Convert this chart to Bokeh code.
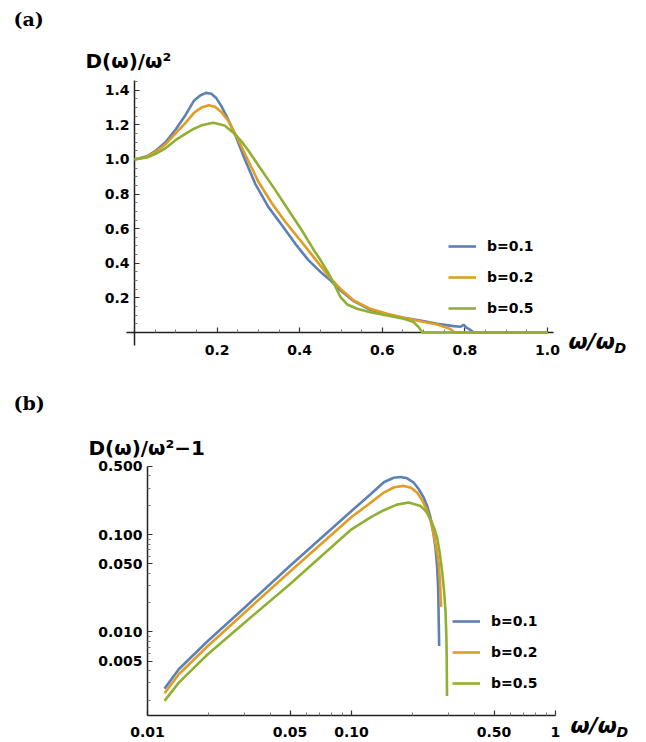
from bokeh.plotting import figure
from bokeh.models import Range1d, FixedTicker, Label, Legend, LegendItem
from bokeh.layouts import column
from bokeh.core.properties import value
from bokeh.embed import file_html
from bokeh.resources import INLINE

# ---------------- data: panel (a)  D(w)/w^2 vs w/wD ----------------
series_labels = ["b=0.1", "b=0.2", "b=0.5"]
series_colors = ["#5E81B5", "#E19C24", "#8FB032"]

a_x_b01 = [0, 0.03, 0.05, 0.075, 0.1, 0.124, 0.144, 0.159, 0.173, 0.186, 0.198, 0.21, 0.222,
           0.244, 0.268, 0.292, 0.324, 0.357, 0.389, 0.421, 0.454, 0.475, 0.499, 0.531, 0.571,
           0.612, 0.652, 0.692, 0.733, 0.773, 0.79, 0.797, 0.803, 0.81, 0.822, 1.0]
a_y_b01 = [1.0, 1.018, 1.048, 1.10, 1.175, 1.259, 1.340, 1.370, 1.385, 1.380, 1.355, 1.31, 1.255,
           1.141, 0.996, 0.861, 0.726, 0.620, 0.514, 0.418, 0.342, 0.30, 0.243, 0.181, 0.131,
           0.104, 0.085, 0.069, 0.050, 0.037, 0.033, 0.045, 0.03, 0.02, 0.0, 0.0]

a_x_b02 = [0, 0.03, 0.05, 0.075, 0.1, 0.124, 0.144, 0.162, 0.18, 0.195, 0.21, 0.227, 0.252, 0.276,
           0.300, 0.333, 0.365, 0.398, 0.430, 0.472, 0.499, 0.531, 0.571, 0.612, 0.652, 0.692,
           0.733, 0.764, 0.775, 1.0]
a_y_b02 = [1.0, 1.016, 1.042, 1.088, 1.152, 1.213, 1.270, 1.300, 1.314, 1.305, 1.275, 1.225, 1.11,
           0.99, 0.871, 0.746, 0.640, 0.543, 0.447, 0.32, 0.252, 0.185, 0.137, 0.108, 0.085,
           0.065, 0.046, 0.021, 0.0, 0.0]

a_x_b05 = [0, 0.03, 0.05, 0.075, 0.1, 0.124, 0.144, 0.165, 0.191, 0.218, 0.244, 0.263, 0.276,
           0.308, 0.341, 0.373, 0.405, 0.437, 0.450, 0.470, 0.483, 0.499, 0.515, 0.539, 0.571,
           0.612, 0.652, 0.676, 0.688, 0.697, 1.0]
a_y_b05 = [1.0, 1.012, 1.031, 1.065, 1.113, 1.150, 1.178, 1.200, 1.213, 1.197, 1.146, 1.093, 1.05,
           0.938, 0.823, 0.707, 0.591, 0.466, 0.42, 0.341, 0.282, 0.204, 0.162, 0.137, 0.117,
           0.098, 0.079, 0.060, 0.031, 0.0, 0.0]

a_xticks = [0.2, 0.4, 0.6, 0.8, 1.0]
a_xtick_labels = ["0.2", "0.4", "0.6", "0.8", "1.0"]
a_xminor = [0.05, 0.1, 0.15, 0.25, 0.3, 0.35, 0.45, 0.5, 0.55, 0.65, 0.7, 0.75, 0.85, 0.9, 0.95]
a_yticks = [0.2, 0.4, 0.6, 0.8, 1.0, 1.2, 1.4]
a_ytick_labels = ["0.2", "0.4", "0.6", "0.8", "1.0", "1.2", "1.4"]
a_yminor = [0.05, 0.1, 0.15, 0.25, 0.3, 0.35, 0.45, 0.5, 0.55, 0.65, 0.7, 0.75, 0.85, 0.9, 0.95,
            1.05, 1.1, 1.15, 1.25, 1.3, 1.35, 1.45]

# ---------------- data: panel (b)  D(w)/w^2 - 1, log-log ----------------
b_x_b01 = [0.01212, 0.01424, 0.01975, 0.02989, 0.04986, 0.1, 0.124, 0.144, 0.161, 0.174, 0.1875,
           0.202, 0.2138, 0.226, 0.235, 0.244, 0.251, 0.258, 0.263, 0.266, 0.269]
b_y_b01 = [0.00262, 0.00414, 0.00808, 0.01776, 0.0476, 0.1747, 0.259, 0.345, 0.383, 0.390, 0.378,
           0.341, 0.292, 0.239, 0.197, 0.149, 0.109, 0.0734, 0.0457, 0.0285, 0.00718]

b_x_b02 = [0.01212, 0.01424, 0.01975, 0.02989, 0.04986, 0.1, 0.124, 0.144, 0.162, 0.180, 0.196,
           0.210, 0.223, 0.235, 0.245, 0.253, 0.261, 0.268, 0.272, 0.275]
b_y_b02 = [0.00235, 0.00368, 0.00718, 0.01578, 0.0416, 0.1517, 0.212, 0.270, 0.306, 0.316, 0.303,
           0.269, 0.222, 0.175, 0.135, 0.100, 0.072, 0.0495, 0.031, 0.0181]

b_x_b05 = [0.01212, 0.01424, 0.01975, 0.02989, 0.04986, 0.1, 0.124, 0.144, 0.167, 0.191, 0.218,
           0.232, 0.244, 0.254, 0.263, 0.271, 0.278, 0.284, 0.289, 0.292, 0.293, 0.294]
b_y_b05 = [0.00196, 0.00302, 0.0059, 0.01247, 0.0309, 0.1133, 0.150, 0.178, 0.203, 0.213, 0.197,
           0.173, 0.1436, 0.117, 0.093, 0.064, 0.0423, 0.027, 0.0164, 0.0085, 0.00504, 0.0022]

b_xticks = [0.01, 0.05, 0.1, 0.5, 1]
b_xtick_labels = ["0.01", "0.05", "0.10", "0.50", "1"]
b_xminor = [0.02, 0.03, 0.04, 0.06, 0.07, 0.08, 0.09, 0.2, 0.3, 0.4, 0.6, 0.7, 0.8, 0.9]
b_yticks = [0.005, 0.01, 0.05, 0.1, 0.5]
b_ytick_labels = ["0.005", "0.010", "0.050", "0.100", "0.500"]
b_yminor = [0.002, 0.003, 0.004, 0.006, 0.007, 0.008, 0.009, 0.02, 0.03, 0.04, 0.06, 0.07,
            0.08, 0.09, 0.2, 0.3, 0.4]

FONT = "DejaVu Sans"
W = 644


def style_axis(ax, ticks, labels, minor, standoff, loc, bounds):
    ax.fixed_location = loc
    ax.bounds = bounds
    ax.ticker = FixedTicker(ticks=ticks, minor_ticks=minor)
    ax.major_label_overrides = {t: l for t, l in zip(ticks, labels)}
    ax.major_tick_in = 5
    ax.major_tick_out = 0
    ax.minor_tick_in = 3
    ax.minor_tick_out = 0
    ax.axis_line_color = "#222222"
    ax.axis_line_width = 1.5
    ax.major_tick_line_color = "#333333"
    ax.major_tick_line_width = 1.2
    ax.minor_tick_line_color = "#777777"
    ax.major_label_text_font = FONT
    ax.major_label_text_font_size = "14px"
    ax.major_label_text_font_style = "bold"
    ax.major_label_text_color = "black"
    ax.major_label_standoff = standoff


def add_label(p, text, x, y, size, style="bold", font=FONT):
    p.add_layout(Label(x=x, y=y, x_units="screen", y_units="screen", text=text,
                       text_font=font, text_font_size=size, text_font_style=style,
                       text_color="black", text_baseline="alphabetic"))


def add_legend(p, renderers, loc):
    items = [LegendItem(label=value(l), renderers=[r]) for l, r in zip(series_labels, renderers)]
    leg = Legend(items=items, location=loc, orientation="vertical",
                 glyph_width=28, glyph_height=20, label_height=20, spacing=11,
                 padding=0, margin=0, label_standoff=11,
                 background_fill_alpha=0, border_line_alpha=0,
                 label_text_font=FONT, label_text_font_size="14px",
                 label_text_font_style="bold", label_text_color="black")
    p.add_layout(leg)


def base_fig(h, xr, yr, **kw):
    p = figure(width=W, height=h, output_backend="svg", toolbar_location=None,
               x_range=xr, y_range=yr, min_border=0, min_border_left=0, min_border_right=0,
               min_border_top=0, min_border_bottom=0, **kw)
    p.outline_line_color = None
    p.xgrid.visible = False
    p.ygrid.visible = False
    return p


# ---------------- panel (a) ----------------
# the frame is the whole canvas; the axes sit at the origin like Mathematica's
pa = base_fig(370, Range1d(-0.3245, 1.2349), Range1d(-0.2197, 1.9191))
style_axis(pa.xaxis[0], a_xticks, a_xtick_labels, a_xminor, 13, 0, (-0.02, 1.015))
style_axis(pa.yaxis[0], a_yticks, a_ytick_labels, a_yminor, 5, 0, (-0.075, 1.457))

ra = []
for xs, ys, c in zip([a_x_b01, a_x_b02, a_x_b05], [a_y_b01, a_y_b02, a_y_b05], series_colors):
    ra.append(pa.line(xs, ys, line_color=c, line_width=2.6, level="overlay"))
add_legend(pa, ra, (448, 52))

add_label(pa, "(a)", 13, 352, "19px", "bold", "DejaVu Serif")
add_label(pa, "D(ω)/ω²", 85, 310, "20px")
add_label(pa, "ω/ω", 568, 29, "22px", "bold italic")
add_label(pa, "D", 614, 23, "14px", "bold italic")

# ---------------- panel (b) ----------------
pb = base_fig(370, Range1d(0.001903, 2.731), Range1d(0.000769, 4.836),
              x_axis_type="log", y_axis_type="log")
style_axis(pb.xaxis[0], b_xticks, b_xtick_labels, b_xminor, 12, 0.00139, (0.01, 1.0))
style_axis(pb.yaxis[0], b_yticks, b_ytick_labels, b_yminor, 5, 0.01, (0.00139, 0.5))

rb = []
for xs, ys, c in zip([b_x_b01, b_x_b02, b_x_b05], [b_y_b01, b_y_b02, b_y_b05], series_colors):
    rb.append(pb.line(xs, ys, line_color=c, line_width=2.6))
add_legend(pb, rb, (452, 47))

add_label(pb, "(b)", 13, 338, "19px", "bold", "DejaVu Serif")
add_label(pb, "D(ω)/ω²−1", 88, 293, "20px")
add_label(pb, "ω/ω", 570, 15, "22px", "bold italic")
add_label(pb, "D", 616, 9, "14px", "bold italic")

layout = column(pa, pb)
open("out.html", "w").write(file_html(layout, INLINE))
